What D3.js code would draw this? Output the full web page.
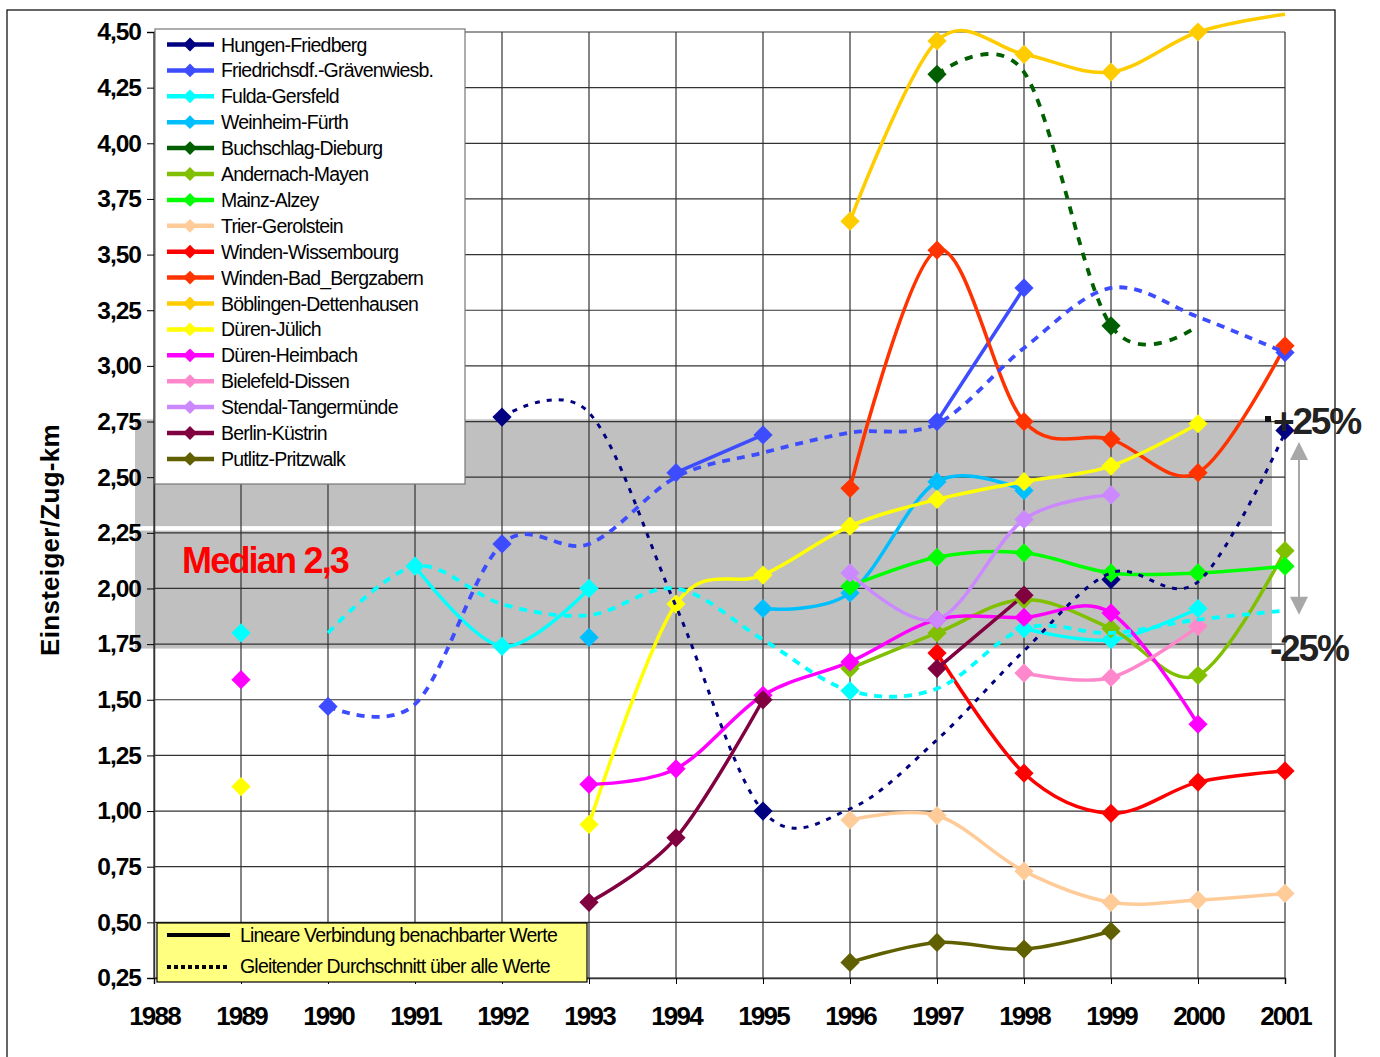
<!DOCTYPE html>
<html>
<head>
<meta charset="utf-8">
<script src="https://cdn.jsdelivr.net/npm/d3@7"></script>
<style>
  body { margin: 0; background: #fff; }
  svg { display: block; font-family: "Liberation Sans", Arial, sans-serif; }
  .grid line { stroke: #333; stroke-width: 1.2; }
</style>
</head>
<body>
<svg id="chart" width="1380" height="1057"></svg>
<script>
// years on the x axis
var years = [1988, 1989, 1990, 1991, 1992, 1993, 1994, 1995, 1996, 1997, 1998, 1999, 2000, 2001];
var yTicks = [0.25, 0.5, 0.75, 1, 1.25, 1.5, 1.75, 2, 2.25, 2.5, 2.75, 3, 3.25, 3.5, 3.75, 4, 4.25, 4.5];

var seriesNames = ["Hungen-Friedberg", "Friedrichsdf.-Grävenwiesb.", "Fulda-Gersfeld", "Weinheim-Fürth",
  "Buchschlag-Dieburg", "Andernach-Mayen", "Mainz-Alzey", "Trier-Gerolstein", "Winden-Wissembourg",
  "Winden-Bad_Bergzabern", "Böblingen-Dettenhausen", "Düren-Jülich", "Düren-Heimbach", "Bielefeld-Dissen",
  "Stendal-Tangermünde", "Berlin-Küstrin", "Putlitz-Pritzwalk"];
var seriesColors = ["#000080", "#3d4cff", "#00ffff", "#00bfff", "#005f00", "#80c000", "#00ff00", "#ffcc99",
  "#ff0000", "#ff3300", "#ffcc00", "#ffff00", "#ff00ff", "#ff88cc", "#cc88ff", "#800040", "#606000"];

// values per year 1988..2001, null = no value
var hungen      = [null, null, null, null, 2.77, null, null, 1.00, null, null, null, 2.04, null, 2.71];
var friedrichs  = [null, null, 1.47, null, 2.20, null, 2.52, 2.69, null, 2.75, 3.35, null, null, 3.06];
var fulda       = [null, 1.80, null, 2.10, 1.74, 2.00, null, null, 1.54, null, 1.82, 1.77, 1.91, null];
var weinheim    = [null, null, null, null, null, 1.78, null, 1.91, 1.98, 2.48, 2.44, null, null, null];
var buchschlag  = [null, null, null, null, null, null, null, null, null, 4.31, null, 3.18, null, null];
var andernach   = [null, null, null, null, null, null, null, null, 1.64, 1.80, 1.95, 1.82, 1.61, 2.17];
var mainz       = [null, null, null, null, null, null, null, null, 2.01, 2.14, 2.16, 2.07, 2.07, 2.10];
var trier       = [null, null, null, null, null, null, null, null, 0.96, 0.98, 0.73, 0.59, 0.60, 0.63];
var windenW     = [null, null, null, null, null, null, null, null, null, 1.71, 1.17, 0.99, 1.13, 1.18];
var windenB     = [null, null, null, null, null, null, null, null, 2.45, 3.52, 2.75, 2.67, 2.52, 3.09];
var boeblingen  = [null, null, null, null, null, null, null, null, 3.65, 4.46, 4.40, 4.32, 4.50, 4.58];
var juelich     = [null, 1.11, null, null, null, 0.94, 1.93, 2.06, 2.28, 2.40, 2.48, 2.55, 2.74, null];
var heimbach    = [null, 1.59, null, null, null, 1.12, 1.19, 1.52, 1.67, 1.86, 1.87, 1.89, 1.39, null];
var bielefeld   = [null, null, null, null, null, null, null, null, null, null, 1.62, 1.60, 1.83, null];
var stendal     = [null, null, null, null, null, null, null, null, 2.07, 1.86, 2.31, 2.42, null, null];
var berlin      = [null, null, null, null, null, 0.59, 0.88, 1.50, null, 1.64, 1.97, null, null, null];
var putlitz     = [null, null, null, null, null, null, null, null, 0.32, 0.41, 0.38, 0.46, null, null];

// moving averages (dotted)
var hungenAvg     = [null, null, null, null, 2.77, 2.79, 1.92, 1.00, 1.01, 1.32, 1.72, 2.07, 2.03, 2.70];
var friedrichsAvg = [null, null, 1.47, 1.48, 2.20, 2.20, 2.50, 2.61, 2.70, 2.74, 3.08, 3.35, 3.22, 3.06];
var fuldaAvg      = [null, null, 1.80, 2.10, 1.93, 1.88, 2.00, 1.77, 1.54, 1.55, 1.82, 1.80, 1.86, 1.90];
var buchschlagAvg = [null, null, null, null, null, null, null, null, null, 4.31, 4.32, 3.18, 3.18, null];

var seriesValues = [hungen, friedrichs, fulda, weinheim, buchschlag, andernach, mainz, trier, windenW,
  windenB, boeblingen, juelich, heimbach, bielefeld, stendal, berlin, putlitz];
var avgValues = [hungenAvg, friedrichsAvg, fuldaAvg, buchschlagAvg];
var avgColors = ["#000080", "#3d4cff", "#00ffff", "#005f00"];
var avgDash = ["5,7", "8,7", "8,7", "8,8"];

// grey band around the median (upper / lower part)
var bandUpper = [2.28, 2.76];
var bandLower = [1.73, 2.26];

var margin = { left: 154, right: 95, top: 32, bottom: 79 };
var width = 1380 - margin.left - margin.right,
    height = 1057 - margin.top - margin.bottom;

var svg = d3.select("#chart");

// outer frame
svg.append("rect").attr("x", 7).attr("y", 10).attr("width", 1328).attr("height", 1070)
  .attr("fill", "none").attr("stroke", "#000").attr("stroke-width", 1.2);

var x = d3.scaleLinear().domain([1988, 2001]).range([0, width]);
var y = d3.scaleLinear().domain([0.25, 4.5]).range([height, 0]);

var g = svg.append("g").attr("transform", "translate(" + margin.left + "," + margin.top + ")");

// band
[bandUpper, bandLower].forEach(function (b) {
  g.append("rect")
    .attr("x", -19).attr("width", x(2001) - 13 + 19)
    .attr("y", y(b[1])).attr("height", y(b[0]) - y(b[1]))
    .attr("fill", "#c0c0c0");
});

// grid
var grid = g.append("g").attr("class", "grid");
grid.selectAll(".h").data(yTicks).enter().append("line")
  .attr("x1", 0).attr("x2", width).attr("y1", d => y(d)).attr("y2", d => y(d));
grid.selectAll(".v").data(years).enter().append("line")
  .attr("y1", 0).attr("y2", height).attr("x1", d => x(d)).attr("x2", d => x(d));

// axes
var fmt = d3.format(".2f");
var yAxis = g.append("g")
  .call(d3.axisLeft(y).tickValues(yTicks).tickSize(7).tickPadding(6).tickFormat(d => fmt(d).replace(".", ",")));
yAxis.selectAll("text").attr("font-size", 24.5).attr("font-weight", "bold")
  .attr("letter-spacing", -1).attr("font-family", "Liberation Sans, Arial, sans-serif").attr("fill", "#000");
var xAxis = g.append("g").attr("transform", "translate(0," + height + ")")
  .call(d3.axisBottom(x).tickValues(years).tickSize(6).tickPadding(23).tickFormat(d3.format("d")));
xAxis.selectAll("text").attr("font-size", 26).attr("font-weight", "bold")
  .attr("letter-spacing", -1.8).attr("font-family", "Liberation Sans, Arial, sans-serif").attr("fill", "#000");
g.selectAll(".domain").attr("stroke", "#333").attr("stroke-width", 1.5);
g.selectAll(".tick line").attr("stroke", "#000");

// y title
svg.append("text")
  .attr("transform", "translate(59,540) rotate(-90)")
  .attr("text-anchor", "middle")
  .attr("font-size", 26).attr("font-weight", "bold").attr("letter-spacing", 0.3)
  .text("Einsteiger/Zug-km");

// median label
g.append("text").attr("x", 28).attr("y", 541)
  .attr("font-size", 36).attr("font-weight", "bold").attr("letter-spacing", -1.8)
  .attr("fill", "#ff0000").text("Median 2,3");

var line = d3.line()
  .defined(d => d.v != null)
  .x(d => x(d.year))
  .y(d => y(d.v))
  .curve(d3.curveCardinal);

var diamond = d3.symbol().type(d3.symbolSquare).size(185);

// solid lines
seriesValues.forEach(function (vals, i) {
  var rows = years.map((yr, j) => ({ year: yr, v: vals[j] }));
  g.append("path").datum(rows)
    .attr("d", line)
    .attr("fill", "none")
    .attr("stroke", seriesColors[i])
    .attr("stroke-width", 3.5)
    .attr("stroke-linejoin", "round");
});

// markers
seriesValues.forEach(function (vals, i) {
  var rows = years.map((yr, j) => ({ year: yr, v: vals[j] })).filter(d => d.v != null && d.v <= 4.5);
  g.selectAll(null).data(rows).enter().append("path")
    .attr("d", diamond)
    .attr("transform", d => "translate(" + x(d.year) + "," + y(d.v) + ") rotate(45)")
    .attr("fill", seriesColors[i]);
});

// dotted moving averages
avgValues.forEach(function (vals, i) {
  var rows = years.map((yr, j) => ({ year: yr, v: vals[j] })).filter(d => d.v != null);
  g.append("path").datum(rows)
    .attr("d", line)
    .attr("fill", "none")
    .attr("stroke", avgColors[i])
    .attr("stroke-width", i == 0 ? 3 : 3.8)
    .attr("stroke-dasharray", avgDash[i]);
});

// +25% / -25% labels and arrow
svg.append("rect").attr("x", 1265).attr("y", 416).attr("width", 6).attr("height", 6).attr("fill", "#111");
svg.append("text").attr("x", 1273).attr("y", 434)
  .attr("font-size", 37).attr("font-weight", "bold").attr("letter-spacing", -2.2)
  .attr("fill", "#222").text("+25%");
svg.append("text").attr("x", 1270).attr("y", 661)
  .attr("font-size", 37).attr("font-weight", "bold").attr("letter-spacing", -2.2)
  .attr("fill", "#222").text("-25%");

var defs = svg.append("defs");
defs.append("marker").attr("id", "arr").attr("viewBox", "0 0 10 10")
  .attr("refX", 9).attr("refY", 5).attr("markerWidth", 22).attr("markerHeight", 18)
  .attr("markerUnits", "userSpaceOnUse").attr("orient", "auto-start-reverse")
  .append("path").attr("d", "M0,0 L10,5 L0,10 Z").attr("fill", "#a8a8a8");
svg.append("line").attr("x1", 1299).attr("x2", 1299)
  .attr("y1", y(2.65) + margin.top).attr("y2", y(1.89) + margin.top)
  .attr("stroke", "#a8a8a8").attr("stroke-width", 2)
  .attr("marker-start", "url(#arr)").attr("marker-end", "url(#arr)");

// series legend
var legend = svg.append("g");
legend.append("rect").attr("x", 155).attr("y", 29).attr("width", 310).attr("height", 455)
  .attr("fill", "#fff").attr("stroke", "#777").attr("stroke-width", 1.2);
var smallDiamond = d3.symbol().type(d3.symbolSquare).size(95);
seriesNames.forEach(function (name, i) {
  var ly = 44.5 + i * 25.9;
  legend.append("line").attr("x1", 167).attr("x2", 214).attr("y1", ly).attr("y2", ly)
    .attr("stroke", seriesColors[i]).attr("stroke-width", 4.5);
  legend.append("path").attr("d", smallDiamond)
    .attr("transform", "translate(190," + ly + ") rotate(45)").attr("fill", seriesColors[i]);
  legend.append("text").attr("x", 221).attr("y", ly).attr("dy", "0.36em")
    .attr("font-size", 19.5).attr("letter-spacing", -0.8).text(name);
});

// line-type legend
var leg2 = svg.append("g");
leg2.append("rect").attr("x", 157).attr("y", 923).attr("width", 430).attr("height", 59)
  .attr("fill", "#ffff80").attr("stroke", "#000").attr("stroke-width", 1.2);
leg2.append("line").attr("x1", 167).attr("x2", 230).attr("y1", 935).attr("y2", 935)
  .attr("stroke", "#000").attr("stroke-width", 4);
leg2.append("line").attr("x1", 167).attr("x2", 230).attr("y1", 967).attr("y2", 967)
  .attr("stroke", "#000").attr("stroke-width", 4).attr("stroke-dasharray", "4,3");
leg2.append("text").attr("x", 240).attr("y", 935).attr("dy", "0.36em")
  .attr("font-size", 19.5).attr("letter-spacing", -0.8).text("Lineare Verbindung benachbarter Werte");
leg2.append("text").attr("x", 240).attr("y", 966).attr("dy", "0.36em")
  .attr("font-size", 19.5).attr("letter-spacing", -0.8).text("Gleitender Durchschnitt über alle Werte");
</script>
</body>
</html>
